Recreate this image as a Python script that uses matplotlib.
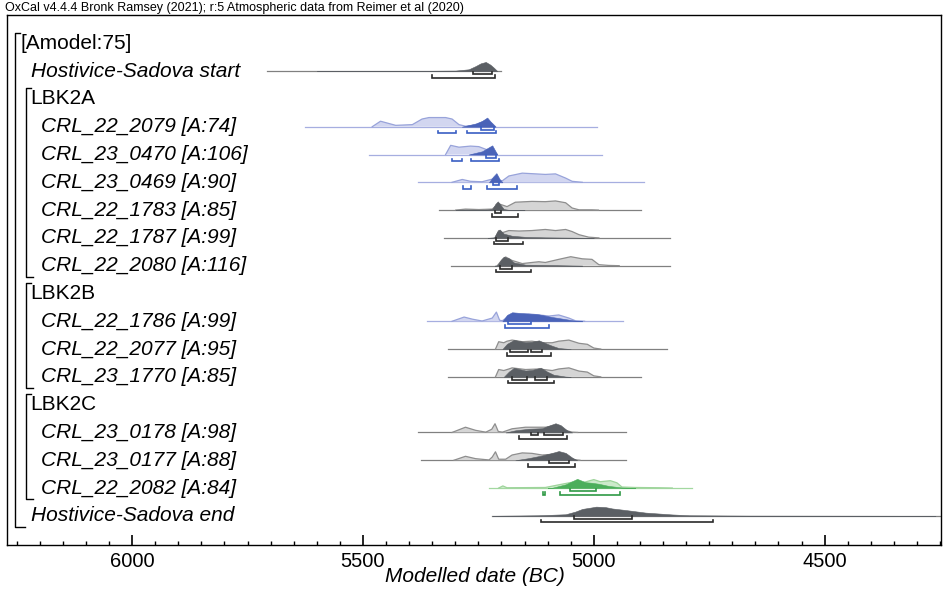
import matplotlib
matplotlib.use("Agg")
import matplotlib.pyplot as plt
from matplotlib.ticker import MultipleLocator
import numpy as np

plt.rcParams["font.family"] = ["Liberation Sans", "DejaVu Sans"]

# ---------------------------------------------------------
# sample names, group labels (row order, top to bottom)
# ---------------------------------------------------------
row_labels = [
    "[Amodel:75]", "Hostivice-Sadova start", "LBK2A",
    "CRL_22_2079 [A:74]", "CRL_23_0470 [A:106]", "CRL_23_0469 [A:90]",
    "CRL_22_1783 [A:85]", "CRL_22_1787 [A:99]", "CRL_22_2080 [A:116]",
    "LBK2B",
    "CRL_22_1786 [A:99]", "CRL_22_2077 [A:95]", "CRL_23_1770 [A:85]",
    "LBK2C",
    "CRL_23_0178 [A:98]", "CRL_23_0177 [A:88]", "CRL_22_2082 [A:84]",
    "Hostivice-Sadova end",
]

# ---------------------------------------------------------
# distributions: (year BC, relative height), ranges as (from, to)
# ---------------------------------------------------------
start_span = (5708, 5201)
start_dark = [(5600, 0), (5400, 0.02), (5300, 0.06), (5271, 0.2), (5256, 0.55), (5245, 0.85),
              (5234, 1.0), (5224, 0.7), (5216, 0.35), (5209, 0)]
start_r68 = [(5262, 5221)]
start_r95 = [(5351, 5214)]

s2079_span = (5626, 4994)
s2079_light = [(5480, 0), (5462, 0.6), (5429, 0.15), (5393, 0.23), (5372, 0.84), (5357, 1.0),
               (5321, 1.0), (5307, 0.84), (5292, 0.23), (5278, 0.06), (5256, 0.17), (5234, 0.69),
               (5220, 0.35), (5213, 0)]
s2079_dark = [(5286, 0), (5256, 0.35), (5242, 0.63), (5231, 1.0), (5220, 0.35), (5213, 0)]
s2079_r68 = [(5245, 5216)]
s2079_r95 = [(5337, 5298), (5274, 5211)]

s0470_span = (5486, 4982)
s0470_light = [(5321, 0), (5310, 1.0), (5292, 0.8), (5267, 0.92), (5249, 0.86), (5234, 0.57),
               (5220, 0.4), (5209, 0)]
s0470_dark = [(5271, 0), (5242, 0.35), (5227, 0.8), (5220, 1.0), (5209, 0)]
s0470_r68 = [(5233, 5211)]
s0470_r95 = [(5307, 5285), (5267, 5206)]

s0469_span = (5380, 4892)
s0469_light = [(5307, 0), (5285, 0.31), (5267, 0.11), (5242, 0.06), (5220, 0.35), (5209, 0.23),
               (5198, 0.17), (5184, 0.69), (5155, 1.0), (5126, 0.92), (5105, 0.86), (5083, 0.92),
               (5061, 0.46), (5047, 0.11), (5025, 0)]
s0469_dark = [(5227, 0), (5219, 0.57), (5211, 1.0), (5204, 0.35), (5198, 0)]
s0469_r68 = [(5219, 5206)]
s0469_r95 = [(5283, 5267), (5231, 5166)]

s1783_span = (5335, 4897)
s1783_light = [(5299, 0), (5278, 0.11), (5249, 0.06), (5220, 0.11), (5206, 0.69), (5188, 0.38),
               (5170, 0.86), (5134, 0.95), (5105, 0.92), (5083, 1.0), (5061, 0.8), (5047, 0.23),
               (5032, 0.03), (5004, 0.03), (4990, 0)]
s1783_dark = [(5300, 0), (5278, 0.06), (5240, 0.02), (5220, 0.11), (5213, 0.69), (5208, 0.95),
              (5202, 0.57), (5195, 0.11), (5184, 0.03), (5150, 0)]
s1783_r68 = [(5214, 5200)]
s1783_r95 = [(5220, 5164)]

s1787_span = (5325, 4836)
s1787_light = [(5213, 0), (5206, 0.8), (5198, 0.57), (5184, 0.8), (5162, 0.75), (5134, 0.8),
               (5105, 0.92), (5083, 0.8), (5061, 0.92), (5047, 0.69), (5032, 0.35), (5011, 0.08),
               (4989, 0)]
s1787_dark = [(5230, 0), (5216, 0.06), (5209, 0.69), (5204, 0.92), (5195, 0.46), (5177, 0.23),
              (5148, 0.11), (5105, 0.06), (5047, 0.03), (5000, 0)]
s1787_r68 = [(5211, 5186)]
s1787_r95 = [(5216, 5153)]

s2080_span = (5310, 4836)
s2080_light = [(5209, 0), (5198, 0.69), (5191, 0.95), (5177, 0.57), (5155, 0.23), (5134, 0.35),
               (5119, 0.43), (5105, 0.35), (5076, 0.69), (5050, 0.98), (5025, 0.75), (5004, 0.69),
               (4989, 0.11), (4968, 0.03), (4945, 0)]
s2080_dark = [(5215, 0), (5209, 0.03), (5202, 0.57), (5195, 0.98), (5184, 0.8), (5173, 0.35),
              (5148, 0.11), (5090, 0.06), (5025, 0)]
s2080_r68 = [(5203, 5178)]
s2080_r95 = [(5211, 5137)]

s1786_span = (5361, 4937)
s1786_light = [(5307, 0), (5281, 0.46), (5263, 0.23), (5242, 0.03), (5220, 0.35), (5211, 1.0),
               (5204, 0.11), (5198, 0.06), (5184, 0.57), (5170, 0.69), (5141, 0.8), (5119, 0.69),
               (5097, 0.57), (5076, 0.69), (5054, 0.35), (5040, 0.06), (5020, 0)]
s1786_dark = [(5198, 0), (5188, 0.69), (5177, 0.98), (5148, 0.86), (5119, 0.75), (5090, 0.46),
              (5061, 0.23), (5040, 0.06), (5025, 0)]
s1786_r68 = [(5185, 5135)]
s1786_r95 = [(5193, 5096)]

s2077_span = (5315, 4841)
s2077_light = [(5213, 0), (5206, 0.8), (5195, 0.69), (5188, 0.86), (5177, 0.98), (5155, 0.8),
               (5134, 0.86), (5112, 0.69), (5090, 0.69), (5076, 0.86), (5054, 0.98), (5032, 0.63),
               (5014, 0.52), (5000, 0.11), (4985, 0)]
s2077_dark = [(5198, 0), (5188, 0.57), (5173, 1.0), (5148, 0.75), (5134, 0.8), (5119, 0.95),
              (5101, 0.57), (5090, 0.35), (5076, 0.11), (5050, 0)]
s2077_r68 = [(5182, 5142), (5135, 5112)]
s2077_r95 = [(5189, 5093)]

s1770_span = (5315, 4897)
s1770_light = [(5213, 0), (5206, 0.8), (5195, 0.69), (5184, 0.86), (5177, 0.98), (5148, 0.8),
               (5119, 0.86), (5090, 0.69), (5076, 0.86), (5054, 0.98), (5032, 0.63), (5014, 0.52),
               (5000, 0.11), (4985, 0)]
s1770_dark = [(5195, 0), (5184, 0.57), (5173, 0.98), (5148, 0.69), (5134, 0.75), (5115, 1.0),
              (5101, 0.57), (5087, 0.23), (5061, 0.03), (5050, 0)]
s1770_r68 = [(5178, 5144), (5128, 5101)]
s1770_r95 = [(5185, 5087)]

s0178_span = (5380, 4931)
s0178_light = [(5307, 0), (5278, 0.57), (5256, 0.23), (5234, 0.03), (5221, 0.35), (5214, 0.95),
               (5207, 0.11), (5198, 0.03), (5177, 0.4), (5148, 0.57), (5126, 0.57), (5105, 0.57),
               (5090, 0.69), (5076, 0.57), (5061, 0.23), (5047, 0.03), (5035, 0)]
s0178_dark = [(5191, 0), (5170, 0.23), (5141, 0.4), (5112, 0.46), (5097, 0.75), (5083, 1.0),
              (5072, 0.8), (5058, 0.23), (5047, 0)]
s0178_r68 = [(5137, 5121), (5108, 5067)]
s0178_r95 = [(5161, 5058)]

s0177_span = (5375, 4931)
s0177_light = [(5303, 0), (5278, 0.43), (5256, 0.17), (5227, 0.03), (5220, 0.35), (5213, 0.92),
               (5206, 0.11), (5191, 0.11), (5177, 0.57), (5155, 0.8), (5134, 0.75), (5112, 0.57),
               (5094, 0.63), (5076, 0.75), (5061, 0.46), (5043, 0.06), (5030, 0)]
s0177_dark = [(5170, 0), (5141, 0.23), (5112, 0.52), (5090, 0.8), (5076, 1.0), (5061, 0.8),
              (5047, 0.29), (5036, 0)]
s0177_r68 = [(5096, 5053)]
s0177_r95 = [(5142, 5040)]

s2082_span = (5226, 4787)
s2082_light = [(5206, 0), (5197, 0.23), (5188, 0.03), (5105, 0.06), (5076, 0.35), (5047, 0.63),
               (5025, 0.57), (5000, 0.92), (4986, 0.69), (4964, 0.8), (4950, 0.57), (4939, 0.11),
               (4910, 0.06), (4859, 0.03), (4830, 0)]
s2082_dark = [(5100, 0), (5090, 0.03), (5061, 0.4), (5036, 1.0), (5018, 0.63), (5004, 0.57),
              (4989, 0.46), (4968, 0.23), (4939, 0.06), (4910, 0)]
s2082_r68 = [(5052, 4996)]
s2082_r95 = [(5109, 5106), (5074, 4944)]

end_span = (5220, 4250)
end_dark = [(5220, 0), (5119, 0.06), (5061, 0.17), (5040, 0.46), (5025, 0.75), (5004, 0.92),
            (4995, 1.0), (4975, 0.95), (4960, 0.8), (4931, 0.63), (4888, 0.35), (4831, 0.15),
            (4794, 0.06), (4664, 0.02), (4450, 0.01), (4260, 0)]
end_r68 = [(5042, 4918)]
end_r95 = [(5114, 4742)]

# colour schemes: light fill, light edge, dark fill, baseline, range bars
GREY = ("#d5d5d5", "#8e8e8e", "#5b5f64", "#808080", "#2a2a2a")
BLUE = ("#d2d6f0", "#98a3da", "#4a63b8", "#a6aee0", "#3a5fc4")
GREEN = ("#cdeacb", "#9ed49b", "#4cae5b", "#a3d8a0", "#2f9a45")

# row index -> (span, light, dark, 68% ranges, 95% ranges, colours)
rows = {
    1: (start_span, None, start_dark, start_r68, start_r95, GREY),
    3: (s2079_span, s2079_light, s2079_dark, s2079_r68, s2079_r95, BLUE),
    4: (s0470_span, s0470_light, s0470_dark, s0470_r68, s0470_r95, BLUE),
    5: (s0469_span, s0469_light, s0469_dark, s0469_r68, s0469_r95, BLUE),
    6: (s1783_span, s1783_light, s1783_dark, s1783_r68, s1783_r95, GREY),
    7: (s1787_span, s1787_light, s1787_dark, s1787_r68, s1787_r95, GREY),
    8: (s2080_span, s2080_light, s2080_dark, s2080_r68, s2080_r95, GREY),
    10: (s1786_span, s1786_light, s1786_dark, s1786_r68, s1786_r95, BLUE),
    11: (s2077_span, s2077_light, s2077_dark, s2077_r68, s2077_r95, GREY),
    12: (s1770_span, s1770_light, s1770_dark, s1770_r68, s1770_r95, GREY),
    14: (s0178_span, s0178_light, s0178_dark, s0178_r68, s0178_r95, GREY),
    15: (s0177_span, s0177_light, s0177_dark, s0177_r68, s0177_r95, GREY),
    16: (s2082_span, s2082_light, s2082_dark, s2082_r68, s2082_r95, GREEN),
    17: (end_span, None, end_dark, end_r68, end_r95, GREY),
}

H = 0.33        # peak height in row units
OFF68 = 0.11    # offset of 68.2% bar below baseline
OFF95 = 0.235   # offset of 95.4% bar below baseline
TICK = 0.09


def draw_range(ax, y, pairs, color):
    for a, b in pairs:
        ax.plot([a, a, b, b], [y - TICK, y, y, y - TICK], color=color, lw=1.2,
                solid_joinstyle="miter", zorder=5)


fig = plt.figure(figsize=(9.47, 5.92), dpi=100)
ax = fig.add_axes([7 / 947, 1 - 545 / 592, 934 / 947, 530 / 592])

for r, (span, light, dark, r68, r95, cols) in rows.items():
    lf, le, df, bl, rc = cols
    ax.plot(span, [r, r], color=bl, lw=0.9, zorder=1)
    if light is not None:
        lx = np.array([p[0] for p in light])
        lh = np.array([p[1] for p in light])
        ax.fill_between(lx, r, r - H * lh, facecolor=lf, edgecolor="none", zorder=2)
        ax.plot(lx, r - H * lh, color=le, lw=0.9, zorder=3)
    dx = np.array([p[0] for p in dark])
    dh = np.array([p[1] for p in dark])
    ax.fill_between(dx, r, r - H * dh, facecolor=df, edgecolor=df, lw=0.4, zorder=4)
    draw_range(ax, r + OFF68, r68, rc)
    draw_range(ax, r + OFF95, r95, rc)

# labels down the left side
yt = ax.get_yaxis_transform()
for i, name in enumerate(row_labels):
    if i == 0:
        x, style = 20, "normal"
    elif name.startswith("CRL"):
        x, style = 41, "italic"
    elif name.startswith("LBK"):
        x, style = 30.5, "normal"
    else:
        x, style = 30.5, "italic"
    ax.text((x - 7) / 934, i, name, transform=yt, fontsize=15, style=style,
            va="center", ha="left", color="black")


# bracket tree for model and phases
def bracket(xpx, top_row, bottom_row, top_len, bottom_len):
    x0 = (xpx - 7) / 934
    ax.plot([x0 + top_len / 934, x0, x0, x0 + bottom_len / 934],
            [top_row - 0.38, top_row - 0.38, bottom_row + 0.39, bottom_row + 0.39],
            transform=yt, color="black", lw=1.0, clip_on=False, zorder=6)


bracket(15, 0, 17, 5, 10)
bracket(25.7, 2, 8, 5, 7)
bracket(25.7, 9, 12, 5, 7)
bracket(25.7, 13, 16, 5, 7)

ax.set_xlim(6271, 4248)
ax.set_ylim(18.05, -1.02)
ax.set_yticks([])
ax.xaxis.set_major_locator(MultipleLocator(500))
ax.xaxis.set_minor_locator(MultipleLocator(50))
ax.tick_params(axis="x", which="major", direction="in", length=7, width=1.2,
               labelsize=14.5, pad=5)
ax.tick_params(axis="x", which="minor", direction="in", length=3, width=1.0)
for s in ax.spines.values():
    s.set_linewidth(1.0)

fig.text(475 / 947, 1 - 577 / 592, "Modelled date (BC)", fontsize=15, style="italic",
         ha="center", va="center")
fig.text(5 / 947, 1 - 8 / 592,
         "OxCal v4.4.4 Bronk Ramsey (2021); r:5 Atmospheric data from Reimer et al (2020)",
         fontsize=9, va="center", ha="left")

fig.savefig("out.png", dpi=100)
